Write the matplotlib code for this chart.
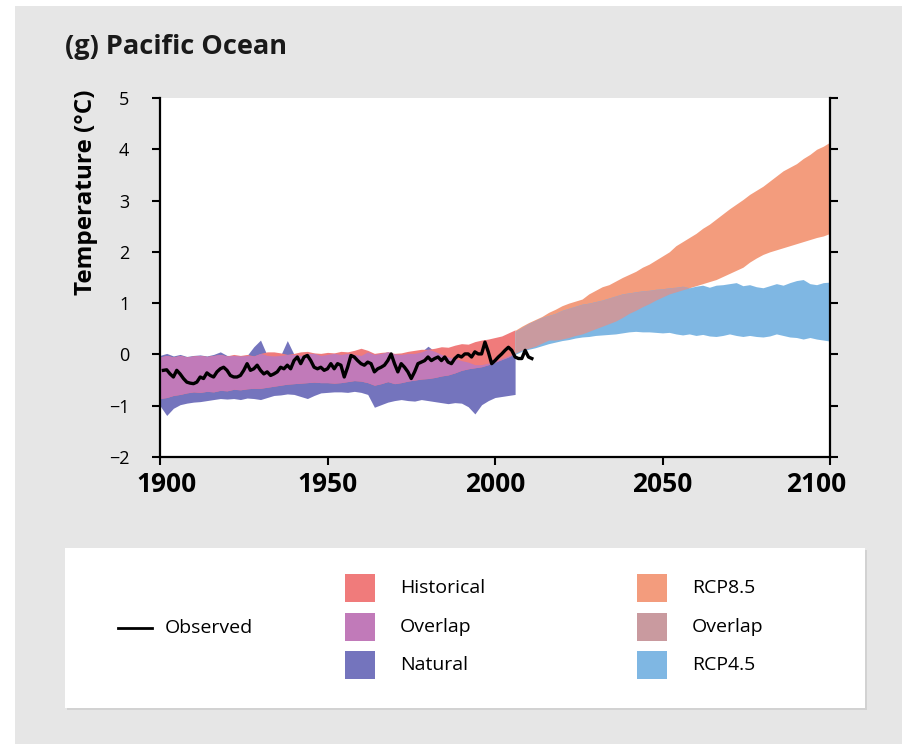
import numpy as np
import matplotlib
matplotlib.use("Agg")
import matplotlib.pyplot as plt
import matplotlib.transforms as mtransforms
from matplotlib.patches import Rectangle
from matplotlib.lines import Line2D

plt.rcParams['font.family'] = ['Open Sans', 'DejaVu Sans']

# observed annual anomaly, 1901-2011
obs_years = np.arange(1901, 2012)
obs_temp = [
    -0.31, -0.30, -0.38, -0.44, -0.31, -0.38, -0.47, -0.54, -0.56, -0.57,
    -0.54, -0.44, -0.47, -0.36, -0.41, -0.44, -0.34, -0.28, -0.25, -0.31,
    -0.41, -0.44, -0.44, -0.41, -0.31, -0.18, -0.31, -0.28, -0.21, -0.31,
    -0.38, -0.34, -0.41, -0.38, -0.34, -0.25, -0.28, -0.21, -0.28, -0.12,
    -0.05, -0.18, -0.05, -0.02, -0.12, -0.25, -0.28, -0.25, -0.31, -0.28,
    -0.18, -0.28, -0.18, -0.21, -0.44, -0.25,
    -0.02, -0.05, -0.12, -0.18, -0.21, -0.15, -0.18, -0.34, -0.28, -0.25,
    -0.21, -0.12, 0.01, -0.18, -0.34, -0.18, -0.25, -0.34, -0.47, -0.34,
    -0.18, -0.15, -0.12, -0.05, -0.12, -0.08, -0.05, -0.12, -0.05, -0.15,
    -0.18, -0.08, -0.02, -0.05, 0.01, 0.01, -0.05, 0.05, 0.01, 0.01,
    0.24, 0.05, -0.18, -0.12, -0.05, 0.01, 0.08, 0.14, 0.08, -0.05,
    -0.08, -0.08, 0.08, -0.05, -0.08,
]

# model ranges 1900-2006 (every 2 years)
hist_years = np.arange(1900, 2007, 2)
hist_hi = [
    -0.05, -0.02, -0.05, -0.02, -0.05, -0.03, -0.02, -0.04, -0.02, 0.00,
    -0.03, 0.00, -0.02, 0.00, -0.03, 0.02, 0.05, 0.05, 0.03, 0.00,
    0.02, 0.05, 0.06, 0.03, 0.02, 0.04, 0.03, 0.06, 0.05, 0.08,
    0.12, 0.08, 0.02, 0.04, 0.05, 0.02, 0.03, 0.06, 0.08, 0.10,
    0.10, 0.12, 0.15, 0.14, 0.18, 0.21, 0.20, 0.25, 0.28, 0.30,
    0.33, 0.36, 0.42, 0.48,
]
hist_lo = [
    -0.86, -0.84, -0.80, -0.78, -0.75, -0.73, -0.74, -0.72, -0.73, -0.70,
    -0.71, -0.68, -0.69, -0.67, -0.66, -0.66, -0.64, -0.62, -0.60, -0.58,
    -0.57, -0.56, -0.55, -0.54, -0.55, -0.55, -0.56, -0.55, -0.53, -0.51,
    -0.52, -0.55, -0.60, -0.57, -0.53, -0.57, -0.55, -0.52, -0.50, -0.48,
    -0.47, -0.45, -0.42, -0.40, -0.36, -0.31, -0.28, -0.26, -0.24, -0.20,
    -0.15, -0.10, -0.05, 0.02,
]
nat_hi = [
    -0.02, 0.02, -0.03, 0.00, -0.04, -0.02, -0.01, -0.03, 0.00, 0.05,
    -0.02, -0.02, -0.03, -0.02, 0.15, 0.28, -0.02, -0.03, -0.02, 0.27,
    0.00, -0.02, 0.02, 0.02, -0.02, 0.00, 0.02, 0.00, 0.02, 0.00,
    -0.02, 0.05, 0.00, 0.02, 0.05, 0.01, 0.00, 0.02, 0.02, 0.05,
    0.16, 0.06, 0.00, -0.05, -0.08, -0.12, -0.15, -0.20, -0.20, -0.17,
    -0.13, -0.08, -0.03, 0.03,
]
nat_lo = [
    -1.00, -1.19, -1.05, -0.98, -0.95, -0.93, -0.92, -0.90, -0.88, -0.86,
    -0.87, -0.86, -0.88, -0.85, -0.86, -0.88, -0.84, -0.80, -0.79, -0.77,
    -0.78, -0.82, -0.86, -0.80, -0.75, -0.74, -0.73, -0.73, -0.74, -0.72,
    -0.74, -0.78, -1.03, -0.98, -0.93, -0.90, -0.88, -0.90, -0.91, -0.88,
    -0.90, -0.92, -0.94, -0.96, -0.94, -0.95, -1.02, -1.16, -0.98, -0.90,
    -0.84, -0.82, -0.80, -0.78,
]

# scenario ranges 2006-2100 (every 2 years)
rcp_years = np.arange(2006, 2101, 2)
rcp85_hi = [
    0.47, 0.55, 0.62, 0.68, 0.74, 0.82, 0.88, 0.95, 1.00, 1.04,
    1.08, 1.18, 1.25, 1.32, 1.36, 1.43, 1.50, 1.56, 1.62, 1.70,
    1.76, 1.84, 1.92, 2.00, 2.12, 2.20, 2.28, 2.36, 2.46, 2.54,
    2.64, 2.74, 2.84, 2.93, 3.02, 3.12, 3.20, 3.28, 3.38, 3.48,
    3.58, 3.65, 3.72, 3.82, 3.90, 4.00, 4.06, 4.14,
]
rcp85_lo = [
    0.02, 0.08, 0.12, 0.16, 0.22, 0.28, 0.28, 0.30, 0.33, 0.37,
    0.40, 0.45, 0.50, 0.55, 0.60, 0.65, 0.72, 0.80, 0.86, 0.93,
    0.99, 1.06, 1.12, 1.18, 1.22, 1.26, 1.30, 1.34, 1.38, 1.42,
    1.46, 1.52, 1.58, 1.64, 1.70, 1.80, 1.88, 1.95, 2.00, 2.04,
    2.08, 2.12, 2.16, 2.20, 2.24, 2.28, 2.31, 2.36,
]
rcp45_hi = [
    0.45, 0.52, 0.60, 0.66, 0.72, 0.76, 0.80, 0.86, 0.90, 0.94,
    0.98, 1.00, 1.03, 1.06, 1.10, 1.14, 1.18, 1.20, 1.22, 1.24,
    1.25, 1.27, 1.28, 1.30, 1.31, 1.33, 1.30, 1.33, 1.35, 1.31,
    1.35, 1.36, 1.38, 1.40, 1.34, 1.36, 1.32, 1.30, 1.34, 1.38,
    1.35, 1.40, 1.44, 1.46, 1.38, 1.36, 1.40, 1.41,
]
rcp45_lo = [
    0.00, 0.06, 0.10, 0.13, 0.17, 0.21, 0.24, 0.27, 0.29, 0.32,
    0.34, 0.35, 0.37, 0.38, 0.39, 0.40, 0.42, 0.44, 0.45, 0.44,
    0.44, 0.43, 0.42, 0.43, 0.40, 0.38, 0.40, 0.37, 0.39, 0.36,
    0.35, 0.37, 0.40, 0.37, 0.35, 0.37, 0.35, 0.34, 0.36, 0.40,
    0.37, 0.34, 0.33, 0.30, 0.33, 0.30, 0.28, 0.26,
]

c_hist = '#f07b7b'
c_hist_ov = '#c17ab9'
c_nat = '#7474bd'
c_r85 = '#f39c7d'
c_rcp_ov = '#c99a9f'
c_r45 = '#7fb7e3'

W, H = 903, 744
fig = plt.figure(figsize=(W / 100, H / 100), dpi=100)
fig.patch.set_facecolor('white')

def px(x, y):
    return x / W, 1 - y / H

# grey panel behind everything
fig.patches.append(Rectangle(px(15, 744), 888 / W, 738 / H, transform=fig.transFigure,
                             facecolor='#e6e6e6', edgecolor='none', zorder=-10))

ax = fig.add_axes([160 / W, 1 - 457 / H, 670 / W, 359 / H])
ax.set_zorder(2)
ax.set_facecolor('white')

def band(x, lo1, hi1, lo2, hi2, c1, c2, cov):
    lo1, hi1, lo2, hi2 = map(np.asarray, (lo1, hi1, lo2, hi2))
    ax.fill_between(x, lo1, hi1, color=c1, lw=0)
    ax.fill_between(x, lo2, hi2, color=c2, lw=0)
    lo = np.maximum(lo1, lo2)
    hi = np.minimum(hi1, hi2)
    ax.fill_between(x, lo, hi, where=hi > lo, interpolate=True, color=cov, lw=0)

band(hist_years, nat_lo, nat_hi, hist_lo, hist_hi, c_nat, c_hist, c_hist_ov)
band(rcp_years, rcp85_lo, rcp85_hi, rcp45_lo, rcp45_hi, c_r85, c_r45, c_rcp_ov)
ax.plot(obs_years, obs_temp, color='black', lw=2.4, zorder=5)

ax.set_xlim(1900, 2100)
ax.set_ylim(-2, 5)
ax.set_xticks([1900, 1950, 2000, 2050, 2100])
ax.set_yticks(range(-2, 6))
ax.tick_params(axis='x', direction='out', length=6, width=1.5, pad=4, labelsize=19)
ax.tick_params(axis='y', direction='out', length=6, width=1.5, pad=16, labelsize=13,
               right=True)
xlabels = ax.get_xticklabels()
for lab in xlabels:
    lab.set_fontweight('bold')
# pull the two end labels slightly inward
xlabels[0].set_transform(xlabels[0].get_transform() +
                         mtransforms.ScaledTranslation(5 / 72, 0, fig.dpi_scale_trans))
xlabels[-1].set_transform(xlabels[-1].get_transform() +
                          mtransforms.ScaledTranslation(-10 / 72, 0, fig.dpi_scale_trans))
ax.spines['top'].set_visible(False)
for s in ('left', 'right', 'bottom'):
    ax.spines[s].set_linewidth(1.6)

fig.text(*px(65, 47), '(g) Pacific Ocean', fontsize=19.5, fontweight='bold',
         ha='left', va='center', color='#1a1a1a')
fig.text(*px(86, 192), 'Temperature (°C)', fontsize=17.5, fontweight='bold',
         rotation=90, ha='center', va='center')

# legend box
fig.patches.append(Rectangle(px(67, 710), 800 / W, 160 / H, transform=fig.transFigure,
                             facecolor='#d2d2d2', edgecolor='none', zorder=1))
fig.patches.append(Rectangle(px(65, 708), 800 / W, 160 / H, transform=fig.transFigure,
                             facecolor='white', edgecolor='none', zorder=2))

fig.lines.append(Line2D([118 / W, 152 / W], [1 - 628 / H] * 2, transform=fig.transFigure,
                        color='black', lw=2, zorder=3))
fig.text(*px(165, 628), 'Observed', fontsize=14, ha='left', va='center', zorder=3)

legend_cols = [
    (345, [('Historical', c_hist), ('Overlap', c_hist_ov), ('Natural', c_nat)]),
    (637, [('RCP8.5', c_r85), ('Overlap', c_rcp_ov), ('RCP4.5', c_r45)]),
]
rows = [588, 627, 665]
for x0, items in legend_cols:
    for yc, (label, col) in zip(rows, items):
        fig.patches.append(Rectangle(px(x0, yc + 14), 30 / W, 28 / H,
                                     transform=fig.transFigure, facecolor=col,
                                     edgecolor='none', zorder=3))
        fig.text(*px(x0 + 55, yc), label, fontsize=14, ha='left', va='center', zorder=3)

fig.savefig('out.png', dpi=100)
